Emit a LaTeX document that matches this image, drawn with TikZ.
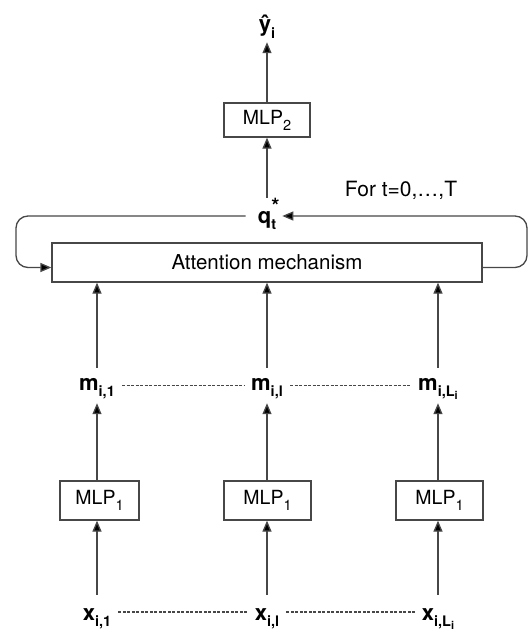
\documentclass[tikz,border=0pt]{standalone}
\usepackage{fontspec}
\setmainfont{TeX Gyre Heros}
\usetikzlibrary{arrows.meta}
\definecolor{lc}{HTML}{474747}
\newcommand\mysb[1]{\raisebox{-0.3em}{\fontsize{14.5}{15}\selectfont #1}}
\newcommand\mysbb[1]{\raisebox{-0.2em}{\fontsize{11}{12}\selectfont #1}}
\begin{document}
\begin{tikzpicture}[x=1pt,y=-1pt,
  box/.style={draw=lc, line width=1.3pt, inner sep=0pt, minimum height=39pt,
    font=\fontsize{19.5}{22}\selectfont},
  lbl/.style={inner sep=0pt, anchor=base, font=\fontsize{22}{24}\selectfont\bfseries},
  mrow/.style={lbl, text height=22pt, text depth=13pt},
  xrow/.style={lbl, text height=25pt, text depth=9pt},
  arr/.style={draw=lc, line width=1.3pt, -{Triangle[length=11pt,width=9pt,fill=black]}},
  dotl/.style={draw=lc, line width=1.1pt, dash pattern=on 3pt off 1.5pt, shorten <=7pt, shorten >=7pt},
  txt/.style={inner sep=0pt, font=\fontsize{21}{24}\selectfont}]
\useasboundingbox (0,0) rectangle (532,634);

% boxes
\node[box, minimum width=86pt, minimum height=34pt] (mlp2) at (267,120) {MLP\mysb{2}};
\node[box, minimum width=430pt, font=\fontsize{20.5}{22}\selectfont] (att) at (267,262.5) {Attention mechanism};
\node[box, minimum width=79pt] (p1) at (99.5,500.5) {MLP\mysb{1}};
\node[box, minimum width=87pt] (p2) at (267.5,500.5) {MLP\mysb{1}};
\node[box, minimum width=87pt] (p3) at (439.5,500.5) {MLP\mysb{1}};

% labels
\node[lbl, text height=20pt, text depth=10pt] (yhat) at (267,32) {\^{y}\mysb{i}};
\node[lbl, text height=25pt, text depth=11pt] (q) at (267,223) {q\rlap{\raisebox{0.42em}{\fontsize{21}{21}\selectfont *}}\mysb{t}};
\node[txt] (for) at (401,190) {For t=0,…,T};
\node[mrow] (m1) at (97,390) {m\mysb{i,1}};
\node[mrow] (ml) at (267,390) {m\mysb{i,l}};
\node[mrow] (mL) at (438,390) {m\mysb{i,L\mysbb{i}}};
\node[xrow] (x1) at (97,620) {x\mysb{i,1}};
\node[xrow] (xl) at (267,620) {x\mysb{i,l}};
\node[xrow] (xL) at (438,620) {x\mysb{i,L\mysbb{i}}};

\coordinate (lc1) at (16,216);
\coordinate (rc1) at (527,216);

% vertical arrows
\draw[arr] (mlp2.north) -- (mlp2.north |- yhat.south);
\draw[arr] (q.north) -- (q.north |- mlp2.south);
\foreach \m/\p/\x in {m1/p1/x1, ml/p2/xl, mL/p3/xL}{
  \draw[arr] (\m.north) -- (\m.north |- att.south);
  \draw[arr] (\m.south |- \p.north) -- (\m.south);
  \draw[arr] (\x.north) -- (\x.north |- \p.south);
}

% feedback loop
\draw[arr, rounded corners=12pt, shorten <=12pt] (q.west) -- (lc1) |- ([yshift=-5pt]att.west);
\draw[arr, rounded corners=12pt, shorten >=6pt] ([yshift=-5pt]att.east) -| (rc1) -- (q.east);

% dotted connectors
\draw[dotl] (m1.east) -- (ml.west);
\draw[dotl] (ml.east) -- (mL.west);
\draw[dotl] (x1.east) -- (xl.west);
\draw[dotl] (xl.east) -- (xL.west);
\end{tikzpicture}
\end{document}
